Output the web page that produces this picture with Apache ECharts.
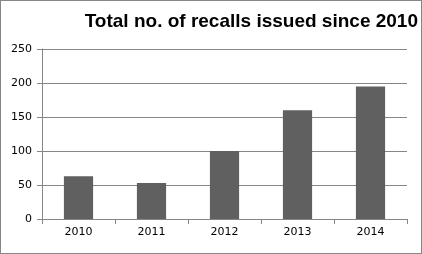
<!DOCTYPE html>
<html>
<head>
<meta charset="utf-8">
<script src="https://cdn.jsdelivr.net/npm/echarts@6/dist/echarts.min.js"></script>
<style>
  html, body { margin: 0; padding: 0; background: #fff; }
  #chart { width: 422px; height: 254px; box-sizing: border-box; border: 1px solid #868686; }
</style>
</head>
<body>
<div id="chart"></div>
<script>
// 数据
var years = ['2010', '2011', '2012', '2013', '2014'];
var recalls = [63, 53, 100, 160, 195];
var yTicks = [0, 50, 100, 150, 200, 250];

var chart = echarts.init(document.getElementById('chart'));
var option = {
  animation: false,
  title: {
    text: 'Total no. of recalls issued since 2010',
    right: 3,
    top: 11,
    padding: 0,
    textStyle: {
      fontFamily: 'Liberation Sans, Arial',
      fontWeight: 'bold',
      fontSize: 19,
      color: '#000'
    }
  },
  grid: { left: 41, right: 14, top: 48, bottom: 34, containLabel: false },
  xAxis: {
    type: 'category',
    data: years,
    axisLine: { lineStyle: { color: '#868686' } },
    axisTick: { show: true, alignWithLabel: false, length: 5, lineStyle: { color: '#868686' } },
    axisLabel: { color: '#000', fontFamily: 'DejaVu Sans', fontSize: 11, margin: 8 }
  },
  yAxis: {
    type: 'value',
    min: yTicks[0],
    max: yTicks[yTicks.length - 1],
    interval: 50,
    axisLine: { show: true, lineStyle: { color: '#868686' } },
    axisTick: { show: true, length: 5, lineStyle: { color: '#868686' } },
    axisLabel: { color: '#000', fontFamily: 'DejaVu Sans', fontSize: 11, margin: 10 },
    splitLine: { lineStyle: { color: '#868686' } }
  },
  series: [{
    type: 'bar',
    data: recalls,
    barWidth: '40%',
    itemStyle: { color: '#606060' }
  }]
};
chart.setOption(option);
</script>
</body>
</html>
